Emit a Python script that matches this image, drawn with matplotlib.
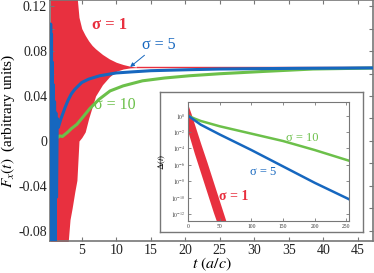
import numpy as np
import matplotlib
matplotlib.use('Agg')
import matplotlib.pyplot as plt

plt.rcParams['font.family'] = ['Liberation Serif', 'DejaVu Serif']
plt.rcParams['mathtext.fontset'] = 'stix'
plt.rcParams['axes.unicode_minus'] = False

RED = '#e8303f'
BLUE = '#1667bf'
GREEN = '#6cc04a'
GRAY = '#777777'

# --- main panel: F_x(t) ---
# sigma = 1 : envelope of the fast oscillation, then a flat line
t_red = [0.45, 1.0, 2.0, 2.9, 3.3, 3.6, 4.0, 4.3, 4.6, 5.0, 5.5, 6.0, 6.5, 7.0, 8.0, 9.0, 10.0, 11.0, 12.0, 13.0]
red_hi = [0.13, 0.13, 0.13, 0.13, 0.13, 0.13, 0.13, 0.13, 0.11, 0.10, 0.094, 0.089, 0.085, 0.082, 0.077, 0.073, 0.070, 0.068, 0.0665, 0.0657]
red_lo = [-0.1, -0.1, -0.1, -0.1, -0.07, -0.06, -0.045, -0.035, 0.0, 0.003, 0.008, 0.02, 0.03, 0.04, 0.05, 0.057, 0.062, 0.064, 0.065, 0.0653]
t_red_tail = [13.0, 47.5]
red_tail = [0.0655, 0.0655]

# sigma = 5
t_blue = [0.45, 0.5, 0.56, 0.62, 0.68, 0.75, 0.82, 0.9, 0.98, 1.06, 1.15, 1.25, 1.35, 1.45, 1.6, 1.8,
          2.0, 2.3, 2.6, 3.0, 3.5, 4.0, 5.0, 6.0, 7.6, 10.0, 12.4, 15.0, 20.6, 25.0, 30.0, 36.0, 47.5]
blue = [0.0, 0.104, -0.1, 0.095, -0.1, 0.07, -0.1, 0.05, -0.1, 0.035, -0.09, 0.025, -0.05, 0.02, 0.012, 0.016,
        0.02, 0.025, 0.03, 0.036, 0.042, 0.046, 0.052, 0.055, 0.058, 0.0605, 0.0615, 0.0625, 0.0634, 0.064, 0.0643, 0.0646, 0.065]

# sigma = 10
t_green = [0.45, 0.5, 0.6, 0.7, 0.8, 0.9, 1.0, 1.2, 1.5, 1.8, 2.2, 2.6, 3.0, 3.5, 4.3, 5.0, 6.2, 7.5,
           9.1, 11.0, 13.8, 17.0, 20.6, 25.0, 31.2, 38.5, 47.5]
green = [0.0, 0.018, -0.004, 0.012, -0.003, 0.008, 0.0, 0.006, 0.003, 0.0045, 0.004, 0.006, 0.008, 0.011, 0.0148, 0.02,
         0.029, 0.037, 0.0445, 0.049, 0.0535, 0.056, 0.058, 0.0598, 0.0618, 0.064, 0.0649]

# --- inset: log10 Delta(t) ---
t_in = [0, 10, 20, 50, 100, 150, 200, 254]
blue_in = [0.0, -0.55, -1.1, -2.3, -4.2, -6.2, -8.2, -10.2]
green_in = [0.0, -0.35, -0.65, -1.3, -2.2, -3.1, -4.2, -5.5]
t_red_in = [0, 5, 10, 20, 30, 40, 50, 60]
red_in_hi = [1.3, 0.2, -1.0, -3.4, -5.7, -8.1, -10.5, -12.9]
red_in_lo = [-2.0, -3.3, -4.6, -7.0, -9.4, -11.8, -14.0, -14.0]

fig = plt.figure(figsize=(3.74, 2.73), dpi=100)
ax = fig.add_axes([0.1337, 0.1172, 0.8636, 0.8828])

ax.fill_between(t_red, red_lo, red_hi, color=RED, lw=0, zorder=1)
ax.plot(t_red_tail, red_tail, color=RED, lw=1.0, zorder=1)
ax.plot(t_green, green, color=GREEN, lw=2.2, zorder=2)
ax.plot(t_blue, blue, color=BLUE, lw=2.2, zorder=3)

ax.set_xlim(0.4, 47.2)
ax.set_ylim(-0.089, 0.1254)
ax.set_xticks(range(5, 50, 5))
ax.set_yticks([-0.08, -0.04, 0, 0.04, 0.08, 0.12])
ax.set_yticklabels(['-0.08', '-0.04', '0', '0.04', '0.08', '0.12'])
ax.set_yticks([-0.06, -0.02, 0.02, 0.06, 0.10], minor=True)
ax.tick_params(which='both', direction='in', top=True, right=True, colors=GRAY,
               labelcolor='#222222', labelsize=10, length=3, width=0.8, pad=2)
for s in ax.spines.values():
    s.set_color(GRAY)
    s.set_linewidth(1.2)

ax.set_xlabel('$t$ $(a/c)$', fontsize=11.5, labelpad=-1)
ax.set_ylabel('$F_x(t)$  (arbitrary units)', fontsize=11, labelpad=1)

ax.text(9.0, 0.103, 'σ = 1', color=RED, fontsize=12, fontweight='bold', ha='center', va='center')
ax.text(16.2, 0.0858, 'σ = 5', color=BLUE, fontsize=11.5, ha='center', va='center')
ax.text(9.8, 0.032, 'σ = 10', color=GREEN, fontsize=11.5, ha='center', va='center')
ax.annotate('', xy=(11.7, 0.0643), xytext=(14.4, 0.0778),
            arrowprops=dict(arrowstyle='-|>', color=BLUE, lw=0.7, mutation_scale=6))

# inset frame
frame = fig.add_axes([0.4278, 0.1502, 0.5428, 0.5128])
frame.set_xticks([])
frame.set_yticks([])
for s in frame.spines.values():
    s.set_color(GRAY)
    s.set_linewidth(1.0)

ins = fig.add_axes([0.5027, 0.1905, 0.4305, 0.4359])
ins.set_yscale('log')
ins.fill_between(t_red_in, 10.0 ** np.array(red_in_lo), 10.0 ** np.array(red_in_hi), color=RED, lw=0)
ins.plot(t_in, 10.0 ** np.array(green_in), color=GREEN, lw=1.8)
ins.plot(t_in, 10.0 ** np.array(blue_in), color=BLUE, lw=1.8)
ins.set_xlim(0, 254)
ins.set_ylim(1.4e-13, 46)
ins.set_xticks([0, 50, 100, 150, 200, 250])
yt = [0, -2, -4, -6, -8, -10, -12]
ins.set_yticks([10.0 ** k for k in yt])
ins.set_yticklabels(['$10^{%d}$' % k for k in yt])
ins.yaxis.set_minor_locator(matplotlib.ticker.NullLocator())
ins.tick_params(which='both', direction='in', top=True, right=True, colors=GRAY,
                labelcolor='#333333', labelsize=4, length=2, width=0.6, pad=2)
for s in ins.spines.values():
    s.set_color(GRAY)
    s.set_linewidth(0.8)
ins.set_ylabel(r'$\Delta(t)$', fontsize=6.5, labelpad=2)

ins.text(180, 10 ** -2.7, 'σ = 10', color=GREEN, fontsize=9, ha='center', va='center')
ins.text(118, 10 ** -6.9, 'σ = 5', color=BLUE, fontsize=9, ha='center', va='center')
ins.text(72, 10 ** -9.9, 'σ = 1', color=RED, fontsize=10, fontweight='bold', ha='center', va='center')

fig.savefig('out.png', dpi=100)
